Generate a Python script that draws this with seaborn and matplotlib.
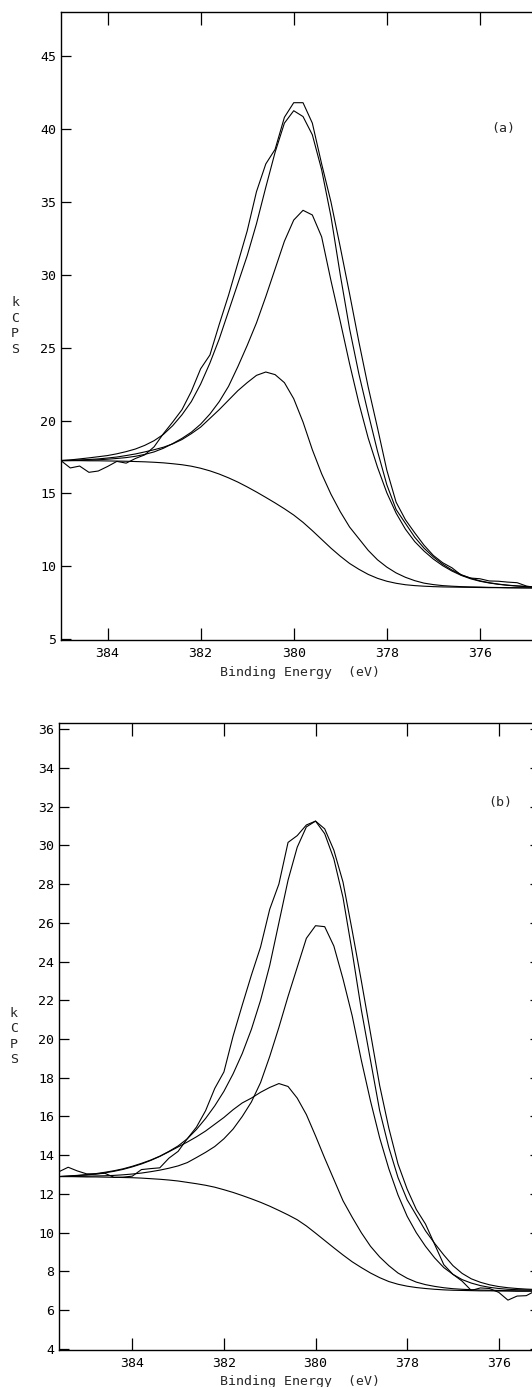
import matplotlib
matplotlib.use("Agg")
import matplotlib.pyplot as plt
import seaborn as sns

# ---------------- panel (a) : N 1s spectrum ----------------
energy_a = [385.0, 384.8, 384.6, 384.4, 384.2, 384.0, 383.8, 383.6, 383.4, 383.2,
            383.0, 382.8, 382.6, 382.4, 382.2, 382.0, 381.8, 381.6, 381.4, 381.2,
            381.0, 380.8, 380.6, 380.4, 380.2, 380.0, 379.8, 379.6, 379.4, 379.2,
            379.0, 378.8, 378.6, 378.4, 378.2, 378.0, 377.8, 377.6, 377.4, 377.2,
            377.0, 376.8, 376.6, 376.4, 376.2, 376.0, 375.8, 375.6, 375.4, 375.2,
            375.0, 374.8]

raw_a = [17.25, 16.75, 16.88, 16.45, 16.54, 16.85, 17.2, 17.08, 17.4, 17.65,
         18.2, 19.1, 19.9, 20.75, 22.0, 23.55, 24.5, 26.6, 28.6, 30.8,
         33.0, 35.7, 37.6, 38.6, 40.8, 41.8, 41.8, 40.4, 37.6, 35.0,
         31.9, 28.7, 25.4, 22.3, 19.5, 16.6, 14.4, 13.2, 12.3, 11.45,
         10.75, 10.25, 9.9, 9.4, 9.2, 9.15, 9.0, 8.98, 8.92, 8.88,
         8.65, 8.55]

envelope_a = [17.26, 17.3, 17.37, 17.44, 17.52, 17.6, 17.72, 17.87, 18.05, 18.3,
              18.62, 19.05, 19.65, 20.4, 21.3, 22.5, 23.95, 25.6, 27.5, 29.4,
              31.3, 33.5, 36.0, 38.4, 40.4, 41.25, 40.85, 39.6, 37.2, 34.0,
              30.0, 26.3, 23.2, 20.5, 17.9, 15.6, 13.9, 12.95, 12.0, 11.25,
              10.65, 10.15, 9.75, 9.43, 9.19, 9.01, 8.88, 8.78, 8.71, 8.66,
              8.62, 8.58]

peak1_a = [17.26, 17.28, 17.3, 17.33, 17.37, 17.43, 17.5, 17.6, 17.71, 17.85,
           18.0, 18.17, 18.4, 18.7, 19.1, 19.55, 20.15, 20.75, 21.4, 22.05,
           22.6, 23.1, 23.33, 23.15, 22.6, 21.5, 19.9, 18.0, 16.35, 14.95,
           13.75, 12.7, 11.9, 11.1, 10.45, 9.95, 9.55, 9.25, 9.02, 8.85,
           8.75, 8.68, 8.64, 8.61, 8.59, 8.58, 8.56, 8.55, 8.54, 8.53,
           8.53, 8.52]

peak2_a = [17.25, 17.26, 17.27, 17.29, 17.31, 17.35, 17.4, 17.46, 17.55, 17.68,
           17.85, 18.1, 18.42, 18.78, 19.2, 19.75, 20.45, 21.3, 22.35, 23.7,
           25.15, 26.7, 28.5, 30.4, 32.3, 33.75, 34.42, 34.1, 32.6, 29.6,
           26.8, 23.9, 21.2, 18.8, 16.8, 15.05, 13.65, 12.55, 11.7, 11.05,
           10.5, 10.05, 9.68, 9.38, 9.15, 8.98, 8.86, 8.77, 8.7, 8.65,
           8.61, 8.58]

background_a = [17.25, 17.25, 17.25, 17.24, 17.24, 17.23, 17.22, 17.21, 17.19, 17.17,
                17.14, 17.1, 17.04, 16.97, 16.87, 16.73, 16.55, 16.33, 16.07, 15.78,
                15.45, 15.1, 14.73, 14.35, 13.95, 13.52, 13.02, 12.45, 11.85, 11.25,
                10.7, 10.2, 9.8, 9.45, 9.18, 8.98, 8.84, 8.74, 8.68, 8.64,
                8.61, 8.59, 8.58, 8.57, 8.56, 8.55, 8.54, 8.54, 8.53, 8.53,
                8.52, 8.52]

# ---------------- panel (b) ----------------
energy_b = [385.6, 385.4, 385.2, 385.0, 384.8, 384.6, 384.4, 384.2, 384.0, 383.8,
            383.6, 383.4, 383.2, 383.0, 382.8, 382.6, 382.4, 382.2, 382.0, 381.8,
            381.6, 381.4, 381.2, 381.0, 380.8, 380.6, 380.4, 380.2, 380.0, 379.8,
            379.6, 379.4, 379.2, 379.0, 378.8, 378.6, 378.4, 378.2, 378.0, 377.8,
            377.6, 377.4, 377.2, 377.0, 376.8, 376.6, 376.4, 376.2, 376.0, 375.8,
            375.6, 375.4, 375.2]

raw_b = [13.15, 13.38, 13.19, 13.04, 13.03, 13.07, 12.86, 12.87, 12.92, 13.26,
         13.31, 13.35, 13.85, 14.2, 14.85, 15.45, 16.3, 17.45, 18.3, 20.15,
         21.75, 23.3, 24.75, 26.7, 28.0, 30.15, 30.5, 31.05, 31.25, 30.85,
         29.75, 28.1, 25.6, 23.0, 20.3, 17.6, 15.4, 13.55, 12.25, 11.2,
         10.45, 9.4, 8.35, 7.85, 7.5, 7.02, 7.15, 7.12, 6.92, 6.52,
         6.73, 6.75, 7.0]

envelope_b = [12.9, 12.93, 12.96, 13.0, 13.05, 13.12, 13.2, 13.3, 13.43, 13.58,
              13.75, 13.95, 14.2, 14.48, 14.85, 15.33, 15.9, 16.55, 17.3, 18.2,
              19.25, 20.5, 22.0, 23.8, 26.0, 28.2, 29.9, 30.95, 31.25, 30.6,
              29.3, 27.3, 24.5, 21.5, 18.9, 16.3, 14.4, 12.85, 11.7, 10.9,
              10.1, 9.45, 8.85, 8.3, 7.9, 7.62, 7.44, 7.31, 7.22, 7.16,
              7.12, 7.09, 7.07]

peak1_b = [12.9, 12.92, 12.95, 12.98, 13.03, 13.09, 13.17, 13.27, 13.4, 13.55,
           13.73, 13.94, 14.18, 14.43, 14.68, 14.95, 15.25, 15.6, 15.95, 16.35,
           16.7, 16.95, 17.25, 17.5, 17.7, 17.55, 16.95, 16.1, 15.0, 13.85,
           12.75, 11.65, 10.8, 10.0, 9.3, 8.75, 8.3, 7.92, 7.65, 7.45,
           7.32, 7.23, 7.16, 7.11, 7.08, 7.06, 7.04, 7.03, 7.02, 7.01,
           7.0, 7.0, 7.0]

peak2_b = [12.9, 12.9, 12.91, 12.92, 12.93, 12.94, 12.96, 12.99, 13.03, 13.08,
           13.15, 13.23, 13.33, 13.45, 13.62, 13.88, 14.15, 14.45, 14.85, 15.35,
           16.0, 16.75, 17.75, 19.1, 20.6, 22.2, 23.7, 25.2, 25.85, 25.8,
           24.8, 23.1, 21.2, 18.9, 16.8, 14.9, 13.3, 11.95, 10.85, 10.0,
           9.3, 8.7, 8.2, 7.85, 7.58, 7.4, 7.27, 7.18, 7.12, 7.08,
           7.06, 7.05, 7.04]

background_b = [12.9, 12.9, 12.89, 12.88, 12.88, 12.87, 12.86, 12.85, 12.84, 12.82,
                12.79, 12.76, 12.72, 12.67, 12.6, 12.53, 12.45, 12.35, 12.22, 12.08,
                11.92, 11.75, 11.57, 11.37, 11.15, 10.92, 10.67, 10.35, 9.98, 9.6,
                9.22, 8.85, 8.5, 8.2, 7.92, 7.68, 7.48, 7.34, 7.24, 7.17,
                7.12, 7.08, 7.05, 7.03, 7.02, 7.01, 7.0, 7.0, 6.99, 6.99,
                6.98, 6.98, 6.98]

energy_ticks = [384, 382, 380, 378, 376]

sns.set_theme(style="ticks")
plt.rcParams["font.family"] = ["DejaVu Sans Mono", "DejaVu Sans"]
plt.rcParams["axes.linewidth"] = 1.0
plt.rcParams["axes.edgecolor"] = "black"

W, H = 532, 1387
fig = plt.figure(figsize=(W / 100, H / 100), dpi=100)
fig.patch.set_facecolor("white")


def axes_from_pixels(left, top, right, bottom):
    return fig.add_axes([left / W, 1 - bottom / H, (right - left) / W, (bottom - top) / H])


panels = [
    dict(box=(61, 12.3, 539, 640), energy=energy_a,
         curves=[raw_a, envelope_a, peak1_a, peak2_a, background_a],
         xlim=(385.0, 374.73), ylim=(4.95, 48.0), yticks=list(range(5, 46, 5)),
         tag="(a)", tag_pos=(375.5, 40.0), right_ticks=False,
         ylab_x=-0.096, xlab=(0.5, -0.051)),
    dict(box=(59, 722.7, 540, 1350.3), energy=energy_b,
         curves=[raw_b, envelope_b, peak1_b, peak2_b, background_b],
         xlim=(385.6, 375.1), ylim=(3.93, 36.33), yticks=list(range(4, 37, 2)),
         tag="(b)", tag_pos=(375.97, 32.2), right_ticks=True,
         ylab_x=-0.094, xlab=(0.502, -0.049)),
]

for p in panels:
    ax = axes_from_pixels(*p["box"])
    ax.set_facecolor("white")
    for values in p["curves"]:
        sns.lineplot(x=p["energy"], y=values, ax=ax, color="black",
                     linewidth=0.8, estimator=None, sort=False)
    ax.set_xlim(*p["xlim"])
    ax.set_ylim(*p["ylim"])
    ax.set_xticks(energy_ticks)
    ax.set_yticks(p["yticks"])
    ax.tick_params(axis="x", direction="in", length=9, width=0.9, top=True,
                   labeltop=False, pad=5, labelsize=9.5, colors="black")
    ax.tick_params(axis="y", direction="in", length=7, width=0.9,
                   right=p["right_ticks"], labelright=False, pad=3.5,
                   labelsize=9.5, colors="black")
    ax.set_xlabel("Binding Energy  (eV)", fontsize=9.5, va="center")
    ax.xaxis.set_label_coords(*p["xlab"])
    ax.set_ylabel("k\nC\nP\nS", rotation=0, fontsize=9.5, va="center",
                  ha="center", linespacing=1.25)
    ax.yaxis.set_label_coords(p["ylab_x"], 0.5)
    ax.text(*p["tag_pos"], p["tag"], fontsize=9.5, ha="center", va="center")
    for side in ["left", "right", "top", "bottom"]:
        ax.spines[side].set_visible(True)
        ax.spines[side].set_color("black")

fig.savefig("out.png", dpi=100, facecolor="white")
